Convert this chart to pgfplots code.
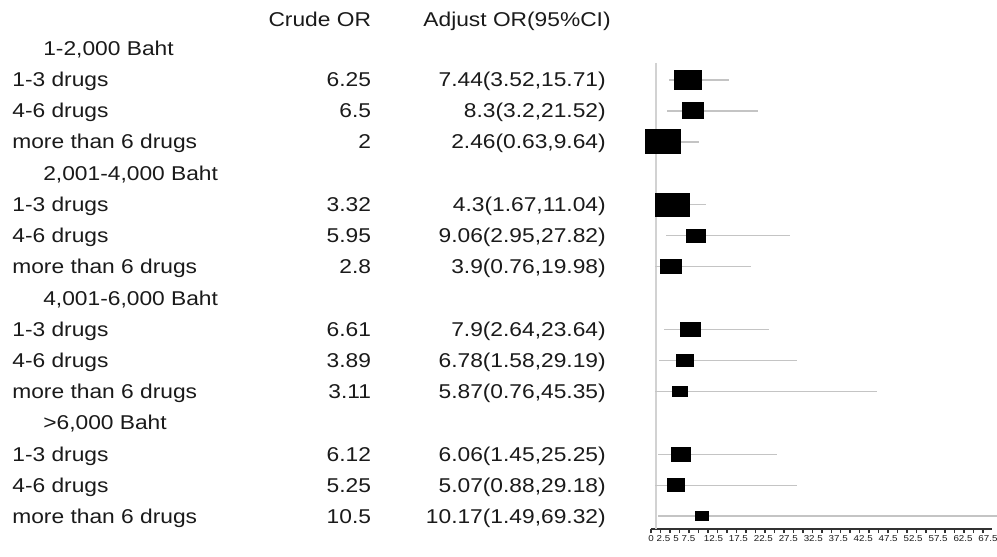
\documentclass[border=0pt]{standalone}
\usepackage{pgfplots}
\pgfplotsset{compat=1.18}
\usepackage{pgfplotstable}
\usepackage{fontspec}
\setmainfont{Liberation Sans}[FakeStretch=1.14]
\definecolor{whisk}{HTML}{C4C4C4}
\definecolor{refl}{HTML}{D2D2D2}
\definecolor{axl}{HTML}{333333}
\definecolor{txt}{HTML}{1A1A1A}
% y = -(pixel row), or, lo, hi, ms = box half-height (pt), xs = width/height ratio
\pgfplotstableread{
y     or    lo    hi     ms    xs
-80   7.44  3.52  15.71  4.75  1.42
-111  8.3   3.2   21.52  4.0   1.31
-142  2.46  0.63  9.64   6.0   1.46
-205  4.3   1.67  11.04  5.75  1.48
-236  9.06  2.95  27.82  3.25  1.46
-267  3.9   0.76  19.98  3.5   1.5
-330  7.9   2.64  23.64  3.5   1.43
-361  6.78  1.58  29.19  3.0   1.42
-392  5.87  0.76  45.35  2.5   1.5
-455  6.06  1.45  25.25  3.5   1.36
-486  5.07  0.88  29.18  3.25  1.31
-517  10.17 1.49  69.32  2.25  1.44
}\data
\newcommand{\grp}[2]{\node[anchor=base west,inner sep=0,text=txt] at (axis cs:-121.8,-#1) {#2};}
\newcommand{\row}[4]{%
 \node[anchor=base west,inner sep=0,text=txt] at (axis cs:-128,-#1) {#2};
 \node[anchor=base east,inner sep=0,text=txt] at (axis cs:-56,-#1) {#3};
 \node[anchor=base east,inner sep=0,text=txt] at (axis cs:-9,-#1) {#4};}
\begin{document}
\begin{tikzpicture}
\begin{axis}[
  scale only axis,
  width=170.5pt, height=265pt,
  xmin=0, xmax=68.2, ymin=-530, ymax=0,
  axis x line*=bottom, axis y line=none,
  axis line style={draw=axl, line width=0.8pt},
  clip=false,
  xtick={0,1.9,...,68.2},
  xticklabels={},
  tick align=outside,
  major tick length=2pt,
  tick style={draw=axl, line width=0.75pt},
  extra x ticks={0,2.5,5,7.5,12.5,17.5,22.5,27.5,32.5,37.5,42.5,47.5,52.5,57.5,62.5,67.5},
  extra x tick labels={0,2.5,5,7.5,12.5,17.5,22.5,27.5,32.5,37.5,42.5,47.5,52.5,57.5,62.5,67.5},
  extra x tick style={major tick length=0pt},
  xticklabel style={font=\fontsize{4.3}{5}\selectfont, text=txt, inner sep=0.5pt, yshift=-2.6pt},
  /pgf/number format/assume math mode=true,
]
% reference line at OR = 1
\addplot[refl, line width=1pt] coordinates {(1,-63) (1,-530)};
% confidence intervals
\addplot[draw=none, mark=none,
  error bars/.cd, x dir=both, x explicit, error mark=none,
  error bar style={whisk, line width=0.75pt}]
  table[x=or, y=y,
        x error plus expr=\thisrow{hi}-\thisrow{or},
        x error minus expr=\thisrow{or}-\thisrow{lo}] {\data};
% boxes
\addplot[only marks, mark=square*, scatter,
  scatter/use mapped color={draw=black, fill=black},
  visualization depends on={\thisrow{ms} \as \msz},
  visualization depends on={\thisrow{xs} \as \xsc},
  scatter/@pre marker code/.append style={/tikz/mark size=\msz, /tikz/xscale=\xsc}]
  table[x=or, y=y] {\data};
% header
\node[anchor=base east,inner sep=0,text=txt] at (axis cs:-56,-27) {Crude OR};
\node[anchor=base east,inner sep=0,text=txt] at (axis cs:-8,-27) {Adjust OR(95\%CI)};
\grp{56}{1-2,000 Baht}
\row{87}{1-3 drugs}{6.25}{7.44(3.52,15.71)}
\row{118}{4-6 drugs}{6.5}{8.3(3.2,21.52)}
\row{149}{more than 6 drugs}{2}{2.46(0.63,9.64)}
\grp{181}{2,001-4,000 Baht}
\row{212}{1-3 drugs}{3.32}{4.3(1.67,11.04)}
\row{243}{4-6 drugs}{5.95}{9.06(2.95,27.82)}
\row{274}{more than 6 drugs}{2.8}{3.9(0.76,19.98)}
\grp{306}{4,001-6,000 Baht}
\row{337}{1-3 drugs}{6.61}{7.9(2.64,23.64)}
\row{368}{4-6 drugs}{3.89}{6.78(1.58,29.19)}
\row{399}{more than 6 drugs}{3.11}{5.87(0.76,45.35)}
\grp{430}{>6,000 Baht}
\row{462}{1-3 drugs}{6.12}{6.06(1.45,25.25)}
\row{493}{4-6 drugs}{5.25}{5.07(0.88,29.18)}
\row{524}{more than 6 drugs}{10.5}{10.17(1.49,69.32)}
\coordinate (bbl) at (axis cs:-130.4,-557);
\coordinate (btr) at (axis cs:69.3,0);
\end{axis}
\pgfresetboundingbox
\path[use as bounding box] (bbl) rectangle (btr);
\end{tikzpicture}
\end{document}
